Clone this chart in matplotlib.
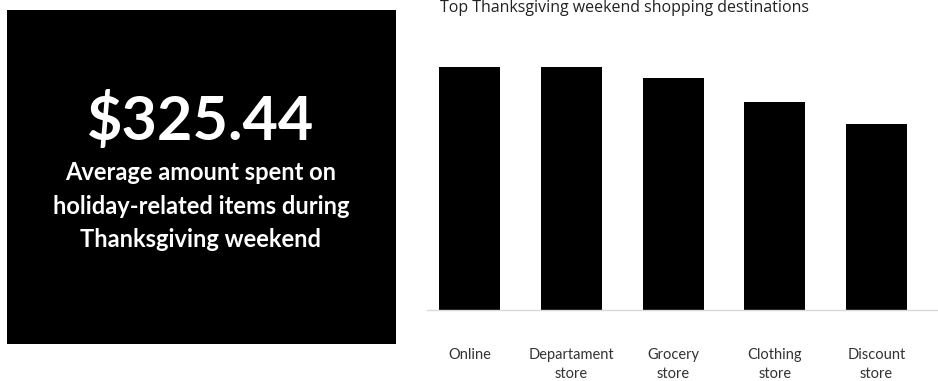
import matplotlib
matplotlib.use("Agg")
import matplotlib.pyplot as plt
from matplotlib.patches import Rectangle

plt.rcParams['font.family'] = ['Lato', 'DejaVu Sans']

# shopping destinations (share of shoppers, %)
destinations = ["Online", "Departament\nstore", "Grocery\nstore", "Clothing\nstore", "Discount\nstore"]
shares = [56, 56, 53.5, 48, 43]

avg_spent = "$325.44"
avg_caption = "Average amount spent on\nholiday-related items during\nThanksgiving weekend"
chart_title = "Top Thanksgiving weekend shopping destinations"

W, H = 938, 381
fig = plt.figure(figsize=(W / 100, H / 100), dpi=100)

# black stat panel on the left
fig.patches.append(Rectangle((7 / W, 1 - 344 / H), (396 - 7) / W, (344 - 10) / H,
                             transform=fig.transFigure, facecolor="black", edgecolor="none"))
fig.text(201 / W, 1 - 120 / H, avg_spent, color="white", fontsize=44, fontweight="bold",
         ha="center", va="center")
fig.text(201 / W, 1 - 206 / H, avg_caption, color="white", fontsize=17, fontweight="bold",
         ha="center", va="center", linespacing=1.55)

# bar chart on the right
ax = fig.add_axes([427 / W, 1 - 310 / H, (938 - 427) / W, 260 / H])
x = range(len(destinations))
ax.bar(x, shares, width=0.6, color="black")
ax.set_xlim(-0.418, 4.604)
ax.set_ylim(0, 60)
ax.set_yticks([])
ax.set_xticks(list(x))
ax.set_xticklabels(destinations, fontsize=10.5, color="#333333", linespacing=1.4, va="top")
ax.tick_params(axis="x", length=0, pad=27.5)
for side in ["top", "left", "right"]:
    ax.spines[side].set_visible(False)
ax.spines["bottom"].set_color("#d9d9d9")
ax.spines["bottom"].set_linewidth(1)

fig.text(440 / W, 1 - 8 / H, chart_title, fontsize=11.5, color="#222222", ha="left", va="center",
         family=["Open Sans", "DejaVu Sans"])

fig.savefig("out.png", dpi=100)
